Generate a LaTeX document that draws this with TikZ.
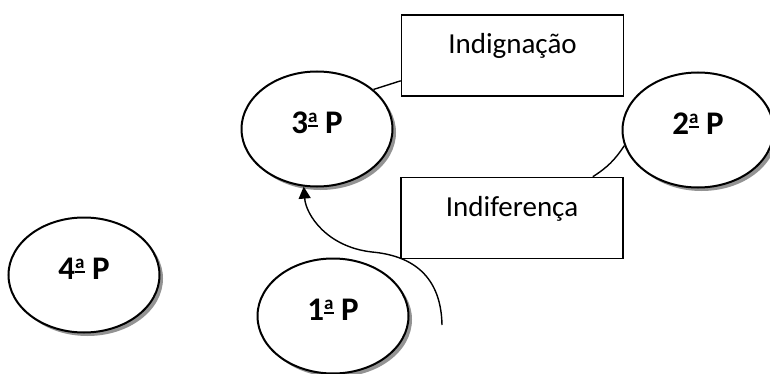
\documentclass[tikz,border=0pt]{standalone}
\usepackage{fontspec}
\setmainfont{Carlito}
\usetikzlibrary{shapes,arrows.meta,shadows,positioning}

% underlined feminine ordinal, as Word sets it
\newcommand{\ordA}{\raisebox{10.5pt}{\fontsize{19}{20}\selectfont a}\llap{\rule[6.5pt]{9.5pt}{1.7pt}}}

\begin{document}
\begin{tikzpicture}[x=1pt,y=-1pt,
    phase/.style={ellipse, draw, line width=2pt, fill=white, inner sep=0pt,
        minimum width=151pt, minimum height=115pt, text depth=13pt,
        font=\fontsize{33}{36}\selectfont\bfseries,
        drop shadow={shadow xshift=3.5pt, shadow yshift=-3.5pt, fill=gray!85, opacity=1}},
    stance/.style={rectangle, draw, line width=1.6pt, inner sep=0pt,
        minimum width=222pt, text height=39pt, text depth=42pt,
        font=\fontsize{29}{34}\selectfont},
    link/.style={line width=1.4pt}]
    \useasboundingbox (0,0) rectangle (770,374);

    % Phases
    \foreach \n/\x/\y/\t in {p3/317/129/3, p2/698/130/2, p4/84/275/4, p1/333/316/1} {
        \node[phase] (\n) at (\x,\y) {\t\ordA{} P};
    }

    % Reactions
    \node[stance] (indig) at (512.5,55.5) {Indignação};
    \node[stance] (indif) at (512,218) {Indiferença};

    % Links
    \draw[link] (p3.35) -- ([yshift=16pt]indig.south west);
    \draw[link] ([xshift=-31pt]indif.north east) to[bend right=12] (p2.192);

    % Return path
    \coordinate (tail) at (442,325);
    \coordinate (turn) at (372,252);
    \draw[link, -{Triangle[length=12pt,width=12pt]}] (tail)
        .. controls (441,270) and (405,255) .. (turn)
        .. controls (327,247) and (306,215) .. (p3.257);
\end{tikzpicture}
\end{document}
